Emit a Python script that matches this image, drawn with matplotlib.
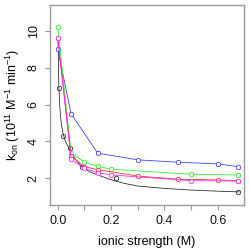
import matplotlib
matplotlib.use('Agg')
import matplotlib.pyplot as plt

plt.rcParams['font.family'] = ['Liberation Sans', 'DejaVu Sans']
plt.rcParams['mathtext.fontset'] = 'custom'
plt.rcParams['mathtext.rm'] = 'Liberation Sans'
plt.rcParams['mathtext.it'] = 'Liberation Sans:italic'

# measured series (type "b": points joined by lines)
blue_x = [0.0, 0.05, 0.15, 0.3, 0.45, 0.6, 0.675]
blue_y = [9.0, 5.5, 3.36, 3.0, 2.87, 2.78, 2.63]
green_x = [0.0, 0.05, 0.1, 0.15, 0.2, 0.5, 0.675]
green_y = [10.2, 3.39, 2.87, 2.65, 2.49, 2.22, 2.18]
red_x = [0.0, 0.05, 0.1, 0.15, 0.3, 0.45, 0.6, 0.675]
red_y = [9.6, 3.2, 2.63, 2.47, 2.12, 1.95, 1.91, 1.87]
pink_x = [0.0, 0.05, 0.1, 0.15, 0.2, 0.5, 0.675]
pink_y = [9.6, 3.03, 2.54, 2.30, 2.18, 1.87, 1.85]

# black points and its fitted curve
black_x = [0.005, 0.021, 0.046, 0.09, 0.22, 0.675]
black_y = [6.9, 4.3, 3.63, 2.6, 2.03, 1.24]
fit_x = [0.001, 0.004, 0.008, 0.013, 0.02, 0.03, 0.046, 0.065, 0.09, 0.12,
         0.15, 0.2, 0.25, 0.3, 0.4, 0.5, 0.6, 0.68]
fit_y = [9.7, 7.0, 5.8, 5.0, 4.4, 3.95, 3.55, 3.05, 2.62, 2.35,
         2.18, 1.92, 1.72, 1.58, 1.45, 1.36, 1.3, 1.26]

xticks = [0.0, 0.1, 0.2, 0.3, 0.4, 0.5, 0.6]
xlabels = ['0.0', '', '0.2', '', '0.4', '', '0.6']
yticks = [2, 4, 6, 8, 10]

fig = plt.figure(figsize=(2.5, 2.5), dpi=100)
ax = fig.add_axes([0.2, 0.18, 0.776, 0.8])

ax.plot(fit_x, fit_y, color='#222222', lw=0.55)
ax.plot(black_x, black_y, 'o', mfc='none', mec='#222222', ms=3.2, mew=0.55)
for xs, ys, c in [(blue_x, blue_y, '#3333ff'), (green_x, green_y, '#22ee22'),
                  (red_x, red_y, '#ff2222'), (pink_x, pink_y, '#ff22ff')]:
    ax.plot(xs, ys, '-o', color=c, lw=0.55, mfc='white', mec=c, ms=3.2, mew=0.55)

ax.set_xlim(-0.029, 0.698)
ax.set_ylim(0.55, 11.4)
ax.set_xticks(xticks)
ax.set_xticklabels(xlabels)
ax.set_yticks(yticks)
ax.set_yticklabels([str(v) for v in yticks], rotation=90, va='center')
for s in ax.spines.values():
    s.set_color('#999999')
    s.set_linewidth(1.0)
ax.tick_params(colors='#999999', labelcolor='#111111', length=3.5, width=0.8,
               labelsize=9, pad=4)
ax.set_xlabel('ionic strength (M)', fontsize=9, labelpad=6)
ax.set_ylabel(r'k$_{\mathrm{on}}$ (10$^{11}$ M$^{-1}$ min$^{-1}$)', fontsize=9,
              labelpad=4)

fig.savefig('out.png', dpi=100)
